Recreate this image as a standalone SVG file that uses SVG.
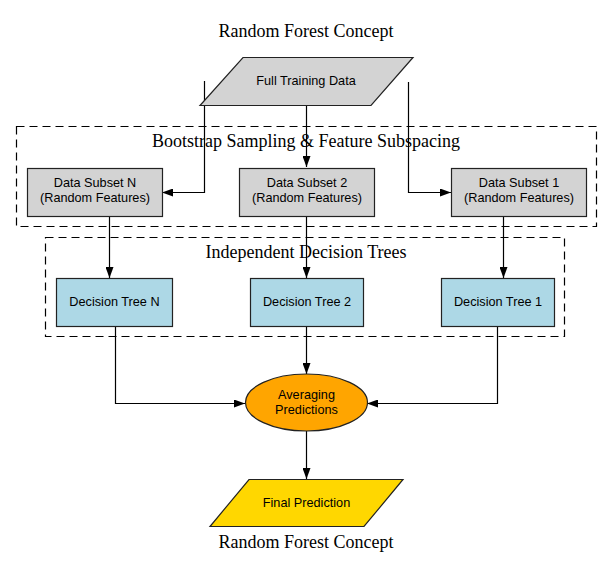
<svg xmlns="http://www.w3.org/2000/svg" width="613" height="563" viewBox="0 0 613 563">
<style>
.t{font-family:"Liberation Serif","Times New Roman",serif;font-size:18px;fill:#000;text-anchor:middle}
.l{font-family:"Liberation Sans",Arial,sans-serif;font-size:12.7px;fill:#000;text-anchor:middle}
.cl{fill:none;stroke:#000;stroke-width:1.2;stroke-dasharray:8,5}
.n{stroke:#222;stroke-width:1.2}
.e{fill:none;stroke:#000;stroke-width:1.2}
</style>
<defs>
<marker id="a" markerWidth="11" markerHeight="8" refX="11" refY="4" orient="auto" markerUnits="userSpaceOnUse">
<path d="M0,0 L11,4 L0,8 Z" fill="#000"/>
</marker>
</defs>
<rect width="613" height="563" fill="#fff"/>
<text class="t" x="306" y="37">Random Forest Concept</text>
<g id="cluster_bootstrap">
<rect class="cl" x="16.5" y="126.5" width="580" height="100"/>
<text class="t" x="306" y="147">Bootstrap Sampling &amp; Feature Subspacing</text>
</g>
<g id="cluster_trees">
<rect class="cl" x="45.5" y="237.5" width="519" height="99"/>
<text class="t" x="306" y="258">Independent Decision Trees</text>
</g>
<g id="edges">
<path class="e" d="M204.5,81 V192.5 H162" marker-end="url(#a)"/>
<path class="e" d="M306.5,105 V167" marker-end="url(#a)"/>
<path class="e" d="M408.5,82 V192.5 H451" marker-end="url(#a)"/>
<path class="e" d="M109.5,216 V278" marker-end="url(#a)"/>
<path class="e" d="M306.5,216 V278" marker-end="url(#a)"/>
<path class="e" d="M503.5,216 V278" marker-end="url(#a)"/>
<path class="e" d="M115.5,327 V403.5 H245" marker-end="url(#a)"/>
<path class="e" d="M306.5,327 V374" marker-end="url(#a)"/>
<path class="e" d="M497.5,327 V403.5 H367" marker-end="url(#a)"/>
<path class="e" d="M306.5,431 V479" marker-end="url(#a)"/>
</g>
<g id="full_training_data">
<polygon class="n" points="243,57.5 413,57.5 371,105.5 200,105.5" fill="#d3d3d3"/>
<text class="l" x="306" y="85">Full Training Data</text>
</g>
<g id="subset_n">
<rect class="n" x="27.5" y="168.5" width="135" height="48" fill="#d3d3d3"/>
<text class="l" x="95" y="187">Data Subset N</text>
<text class="l" x="95" y="202">(Random Features)</text>
</g>
<g id="subset_2">
<rect class="n" x="239.5" y="168.5" width="135" height="48" fill="#d3d3d3"/>
<text class="l" x="307" y="187">Data Subset 2</text>
<text class="l" x="307" y="202">(Random Features)</text>
</g>
<g id="subset_1">
<rect class="n" x="451.5" y="168.5" width="135" height="48" fill="#d3d3d3"/>
<text class="l" x="519" y="187">Data Subset 1</text>
<text class="l" x="519" y="202">(Random Features)</text>
</g>
<g id="tree_n">
<rect class="n" x="56.5" y="278.5" width="116" height="48" fill="#add8e6"/>
<text class="l" x="114.5" y="306">Decision Tree N</text>
</g>
<g id="tree_2">
<rect class="n" x="250.5" y="278.5" width="113" height="48" fill="#add8e6"/>
<text class="l" x="307" y="306">Decision Tree 2</text>
</g>
<g id="tree_1">
<rect class="n" x="441.5" y="278.5" width="113" height="48" fill="#add8e6"/>
<text class="l" x="498" y="306">Decision Tree 1</text>
</g>
<g id="averaging">
<ellipse class="n" cx="306.5" cy="402.5" rx="61" ry="28.5" fill="#ffa500"/>
<text class="l" x="306.5" y="399">Averaging</text>
<text class="l" x="306.5" y="414">Predictions</text>
</g>
<g id="final_prediction">
<polygon class="n" points="249,479.5 403,479.5 364,526.5 210,526.5" fill="#ffd700"/>
<text class="l" x="306.5" y="507">Final Prediction</text>
</g>
<text class="t" x="306" y="548">Random Forest Concept</text>
</svg>
